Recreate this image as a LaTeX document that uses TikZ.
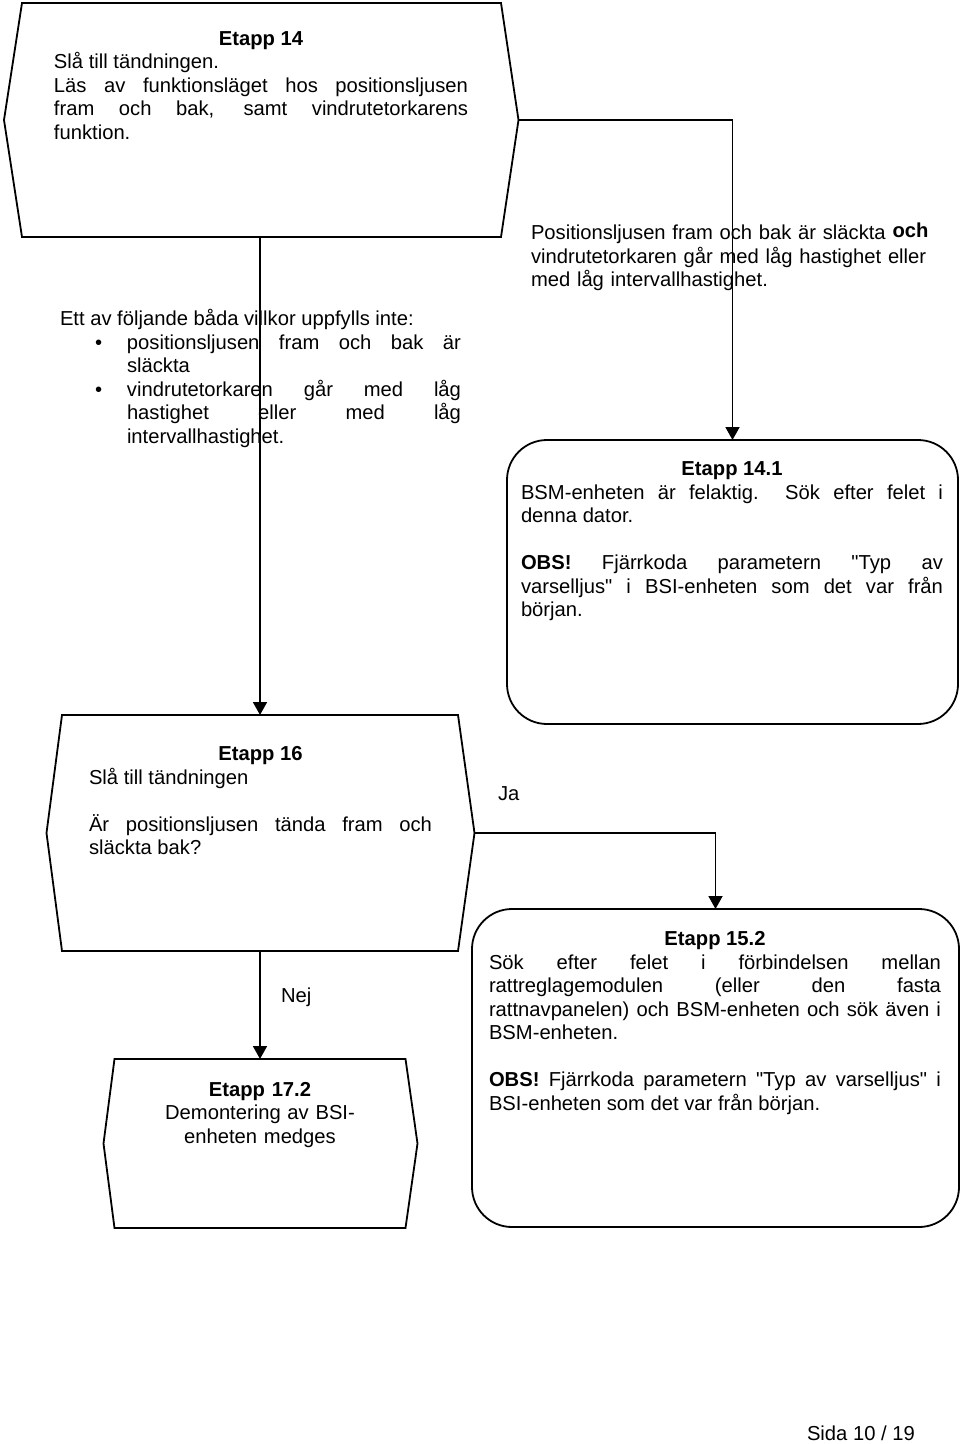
\documentclass[tikz,border=0pt]{standalone}
\usepackage{fontspec}
\setmainfont{Liberation Sans}
\newfontfamily\qfont{Liberation Sans}[Ligatures=TeXOff]
\usetikzlibrary{arrows.meta,calc}
\hyphenpenalty=10000
\tolerance=10000
\newcommand\sq{{\qfont\symbol{34}}}
\begin{document}
\begin{tikzpicture}[x=0.5pt,y=-0.5pt,
  line width=0.9pt,
  frame/.style={inner sep=0pt, outer sep=0pt},
  rbox/.style={draw, rounded corners=20pt, inner sep=0pt, outer sep=0pt},
  txt/.style={inner sep=0pt, outer sep=0pt, anchor=base west, align=justify,
    font=\fontsize{10.1pt}{11.75pt}\selectfont},
  lbl/.style={inner sep=0pt, outer sep=0pt, anchor=base west,
    font=\fontsize{10.1pt}{11.75pt}\selectfont},
  arr/.style={-{Triangle[length=6.5pt,width=7pt]}},
]
\useasboundingbox (0,0) rectangle (960,1444);

% ---- Etapp 14 (hexagon)
\node[frame, minimum width=239.5pt, minimum height=117pt] (e14) at (261.5,120) {};
\coordinate (e14R) at ($(e14.east)+(17.5,0)$);
\coordinate (e14L) at ($(e14.west)+(-18,0)$);
\draw (e14.north west) -- (e14.north east) -- (e14R) -- (e14.south east)
  -- (e14.south west) -- (e14L) -- cycle;

% ---- Etapp 14.1 (rounded)
\node[rbox, minimum width=225.5pt, minimum height=142pt] (e141) at (732.5,582) {};

% ---- Etapp 16 (hexagon)
\node[frame, minimum width=198pt, minimum height=118pt] (e16) at (260,833) {};
\coordinate (e16R) at ($(e16.east)+(16.5,0)$);
\coordinate (e16L) at ($(e16.west)+(-15.5,0)$);
\draw (e16.north west) -- (e16.north east) -- (e16R) -- (e16.south east)
  -- (e16.south west) -- (e16L) -- cycle;

% ---- Etapp 15.2 (rounded)
\node[rbox, minimum width=243.5pt, minimum height=159pt] (e152) at (715.5,1068) {};

% ---- Etapp 17.2 (hexagon)
\node[frame, minimum width=145.5pt, minimum height=84.5pt] (e172) at (260,1143.5) {};
\coordinate (e172R) at ($(e172.east)+(12,0)$);
\coordinate (e172L) at ($(e172.west)+(-11,0)$);
\draw (e172.north west) -- (e172.north east) -- (e172R) -- (e172.south east)
  -- (e172.south west) -- (e172L) -- cycle;

% ---- connectors
\draw[arr] (e14R) -| (e141.north);
\draw[arr] (e14.south -| e16.north) -- (e16.north);
\draw[arr] (e16R) -| (e152.north);
\draw[arr] (e16.south) -- (e172.north);

% ---- texts
\node[txt, text width=207pt] (t14) at (54,45.5) {{\centering\bfseries Etapp 14\par}
Slå till tändningen.\\
Läs av funktionsläget hos positionsljusen\linebreak fram och bak, samt vindrutetorkarens\linebreak funktion.};

\node[txt, text width=200.5pt] (cond1) at (60,326) {Ett av följande båda villkor uppfylls inte:\par
{\leftskip=33.5pt
\leavevmode\llap{\makebox[16pt][l]{\textbullet}}positionsljusen fram och bak är\linebreak släckta\par}
{\leftskip=33.5pt
\leavevmode\llap{\makebox[16pt][l]{\textbullet}}vindrutetorkaren går med låg\linebreak hastighet eller med låg\linebreak intervallhastighet.\par}};

\node[txt, align=left, text width=215pt] (cond2) at (531,240) {Positionsljusen fram och bak är släckta \raisebox{1pt}{\textbf{och}}\\
vindrutetorkaren går med låg hastighet eller\\
med låg intervallhastighet.};

\node[txt, text width=211pt] (t141) at (521,475.5) {{\centering\bfseries Etapp 14.1\par}
BSM-enheten är felaktig.\ \ Sök efter felet i\linebreak denna dator.\par\vskip\baselineskip
\textbf{OBS!} Fjärrkoda parametern \sq Typ av\linebreak varselljus\sq\ i BSI-enheten som det var från\linebreak början.};

\node[txt, text width=171.5pt] (t16) at (89,760.5) {{\centering\bfseries Etapp 16\par}
Slå till tändningen\par\vskip\baselineskip
Är positionsljusen tända fram och\linebreak släckta bak?};

\node[txt, text width=226pt] (t152) at (489,945.5) {{\centering\bfseries Etapp 15.2\par}
Sök efter felet i förbindelsen mellan\linebreak rattreglagemodulen (eller den fasta\linebreak rattnavpanelen) och BSM-enheten och sök även i\linebreak BSM-enheten.\par\vskip\baselineskip
\textbf{OBS!} Fjärrkoda parametern \sq Typ av varselljus\sq\ i\linebreak BSI-enheten som det var från början.};

\node[txt, anchor=base, align=center, text width=150pt] (t172) at (260,1096) {\textbf{Etapp 17.2}\\
Demontering av BSI-\\
enheten medges};

\node[lbl] (ja) at (498,800) {Ja};
\node[lbl] (nej) at (281,1002) {Nej};
\node[lbl] (page) at (807,1440) {Sida 10 / 19};
\end{tikzpicture}
\end{document}
